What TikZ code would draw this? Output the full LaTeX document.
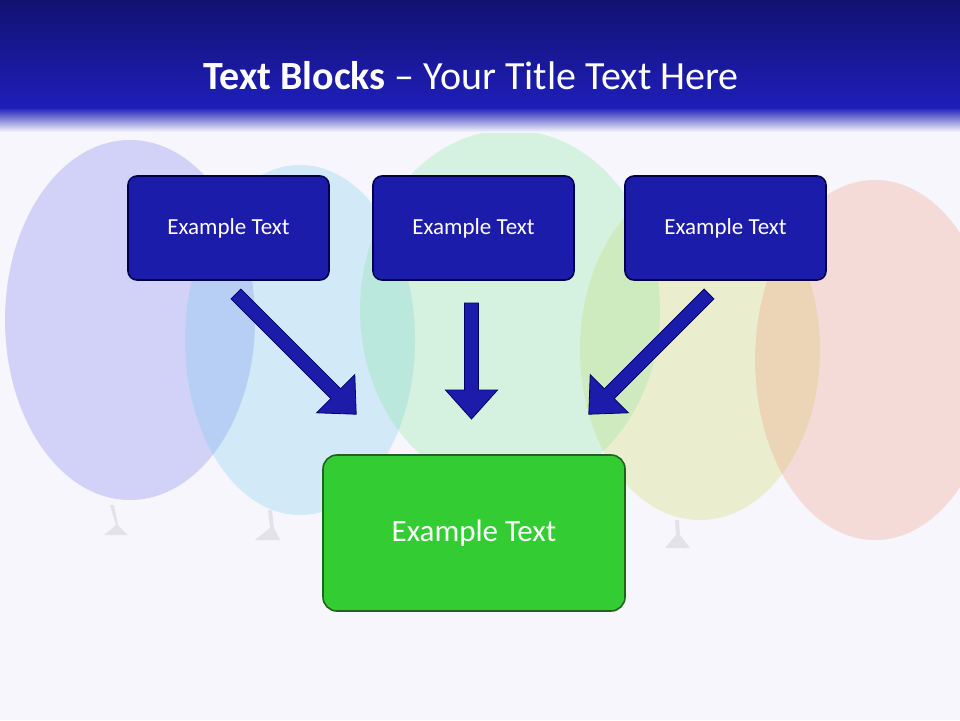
\documentclass[tikz,border=0pt]{standalone}
\usepackage{fontspec}
\setmainfont{Carlito}
\definecolor{bg}{RGB}{246,246,252}
\definecolor{bblue}{RGB}{28,28,170}
\definecolor{hdtop}{RGB}{18,18,115}
\definecolor{hdbot}{RGB}{30,30,185}
\definecolor{gfill}{RGB}{51,204,51}
\definecolor{gdraw}{RGB}{30,100,30}
\definecolor{bl1}{RGB}{120,120,240}
\definecolor{bl2}{RGB}{120,200,240}
\definecolor{bl3}{RGB}{210,220,90}
\definecolor{bl4}{RGB}{240,150,120}
\definecolor{bl5}{RGB}{130,230,150}
\begin{document}
\begin{tikzpicture}[x=1pt,y=-1pt,
  blk/.style={draw=black!70!blue,line width=1.6pt,fill=bblue,rounded corners=9pt,minimum width=201pt,minimum height=104pt,text=white,font=\fontsize{23}{27}\selectfont},
  grn/.style={draw=gdraw,line width=1.6pt,fill=gfill,rounded corners=14pt,minimum width=302pt,minimum height=156pt,text=white,font=\fontsize{31}{36}\selectfont},
  barrow/.style={fill=bblue,draw=black!60!blue,line width=0.8pt}]
\useasboundingbox (0,0) rectangle (960,720);
\fill[bg] (0,0) rectangle (960,720);
% balloons (background scene)
\begin{scope}[opacity=0.28]
\fill[bl1] (130,320) ellipse (125pt and 180pt);
\fill[bl2] (300,340) ellipse (115pt and 175pt);
\fill[bl3] (700,350) ellipse (120pt and 170pt);
\fill[bl4] (875,360) ellipse (120pt and 180pt);
\fill[bl5] (510,310) ellipse (150pt and 180pt);
\fill[gray!60] (110,505) -- (116,525) -- (104,535) -- (128,535) -- (118,525) -- (114,505) -- cycle;
\fill[gray!60] (268,510) -- (270,528) -- (255,540) -- (280,540) -- (274,528) -- (272,510) -- cycle;
\fill[gray!60] (675,520) -- (676,535) -- (665,548) -- (690,548) -- (680,535) -- (679,520) -- cycle;
\end{scope}
% header
\shade[top color=hdtop,bottom color=hdbot] (0,0) rectangle (960,108);
\shade[top color=hdbot,bottom color=bg] (0,107.5) rectangle (960,132);
\node[text=white,font=\fontsize{40}{46}\selectfont] (title) at (471,76) {\textbf{Text Blocks} – Your Title Text Here};
% boxes
\node[blk] (b1) at (228.5,228) {Example Text};
\node[blk] (b2) at (473.5,228) {Example Text};
\node[blk] (b3) at (725.5,228) {Example Text};
\node[grn] (g) at (474,533) {Example Text};
% block arrows
\draw[barrow,shift={(471.5,303)}] (-7,0) -- (7,0) -- (7,87) -- (26,87) -- (0,116) -- (-26,87) -- (-7,87) -- cycle;
\draw[barrow,shift={(236,294)},rotate=45] (-7,0) -- (7,0) -- (7,141) -- (27,141) -- (0,170) -- (-27,141) -- (-7,141) -- cycle;
\draw[barrow,shift={(709,294)},rotate=-45] (-7,0) -- (7,0) -- (7,141) -- (27,141) -- (0,170) -- (-27,141) -- (-7,141) -- cycle;
\end{tikzpicture}
\end{document}
